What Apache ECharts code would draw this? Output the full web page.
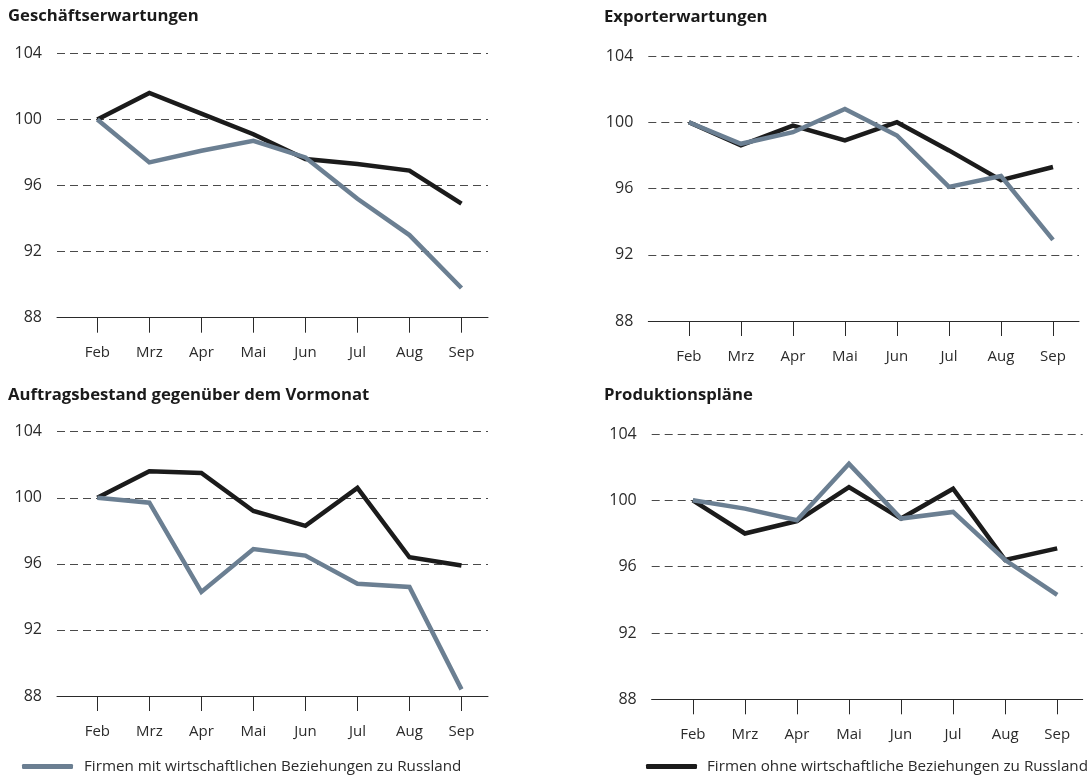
<!DOCTYPE html>
<html>
<head>
<meta charset="utf-8">
<script src="https://cdn.jsdelivr.net/npm/echarts@6/dist/echarts.min.js"></script>
<style>
  html, body { margin: 0; padding: 0; background: #fff; }
  #chart { width: 1090px; height: 782px; }
</style>
</head>
<body>
<div id="chart"></div>
<script>
// Month labels along each x axis
const months = ['Feb', 'Mrz', 'Apr', 'Mai', 'Jun', 'Jul', 'Aug', 'Sep'];
const yTicks = [88, 92, 96, 100, 104];

const nameWith = 'Firmen mit wirtschaftlichen Beziehungen zu Russland';
const nameWithout = 'Firmen ohne wirtschaftliche Beziehungen zu Russland';

const panelTitles = [
  'Geschäftserwartungen',
  'Exporterwartungen',
  'Auftragsbestand gegenüber dem Vormonat',
  'Produktionspläne'
];

// Index values (Feb = 100), firms with ties to Russia
const withGeschaeft = [100, 97.4, 98.1, 98.7, 97.7, 95.2, 93.0, 89.8];
const withExport    = [100, 98.7, 99.4, 100.8, 99.2, 96.1, 96.75, 92.9];
const withAuftrag   = [100, 99.7, 94.3, 96.9, 96.5, 94.8, 94.6, 88.4];
const withProdukt   = [100, 99.5, 98.8, 102.2, 98.9, 99.3, 96.4, 94.3];

// Index values (Feb = 100), firms without ties to Russia
const withoutGeschaeft = [100, 101.6, 100.35, 99.1, 97.6, 97.3, 96.9, 94.9];
const withoutExport    = [100, 98.6, 99.8, 98.9, 100, 98.3, 96.5, 97.3];
const withoutAuftrag   = [100, 101.6, 101.5, 99.2, 98.3, 100.6, 96.4, 95.9];
const withoutProdukt   = [100, 98.0, 98.75, 100.8, 98.9, 100.7, 96.4, 97.1];

const withSets = [withGeschaeft, withExport, withAuftrag, withProdukt];
const withoutSets = [withoutGeschaeft, withoutExport, withoutAuftrag, withoutProdukt];

const GRAY = '#6b7f92';
const BLACK = '#1b1b1b';
const TEXT = '#2b2b2b';
const FONT = '"Open Sans", "Noto Sans", sans-serif';

// Panel placement: grid box and title anchor
const panels = [
  { left: 57,    top: 53.3,  width: 431, height: 264.4, min: -0.775, max: 7.51, tx: 8,   ty: 8 },
  { left: 648.3, top: 56,    width: 430.7, height: 265, min: -0.78,  max: 7.5,  tx: 604, ty: 9 },
  { left: 57,    top: 431.7, width: 431, height: 264.3, min: -0.775, max: 7.51, tx: 8,   ty: 387 },
  { left: 651.7, top: 434,   width: 431, height: 265.3, min: -0.79,  max: 7.49, tx: 604, ty: 387 }
];

const monthIdx = months.map((m, i) => i);
const toPoints = arr => arr.map((v, i) => [i, v]);

const option = {
  backgroundColor: '#fff',
  animation: false,
  title: panels.map((p, i) => ({
    text: panelTitles[i],
    left: p.tx,
    top: p.ty,
    padding: 0,
    textStyle: { fontFamily: FONT, fontSize: 16.7, fontWeight: 'bold', color: '#1a1a1a' }
  })),
  legend: [
    {
      data: [nameWith],
      left: 22, top: 759,
      padding: 0,
      icon: 'roundRect',
      itemWidth: 51, itemHeight: 5,
      textStyle: { fontFamily: FONT, fontSize: 15.2, color: TEXT, padding: [0, 0, 0, 6] }
    },
    {
      data: [nameWithout],
      left: 646, top: 759,
      padding: 0,
      icon: 'roundRect',
      itemWidth: 51, itemHeight: 5,
      textStyle: { fontFamily: FONT, fontSize: 15.2, color: TEXT, padding: [0, 0, 0, 5] }
    }
  ],
  grid: panels.map(p => ({ left: p.left, top: p.top, width: p.width, height: p.height, containLabel: false })),
  xAxis: panels.map((p, i) => ({
    type: 'value',
    gridIndex: i,
    min: p.min,
    max: p.max,
    axisLine: { show: true, lineStyle: { color: '#2a2a2a', width: 1 } },
    axisTick: { show: true, customValues: monthIdx, length: 15, lineStyle: { color: '#2a2a2a', width: 1 } },
    axisLabel: {
      customValues: monthIdx,
      formatter: v => months[Math.round(v)],
      margin: 28,
      fontFamily: FONT, fontSize: 15, color: TEXT
    },
    splitLine: { show: false }
  })),
  yAxis: panels.map((p, i) => ({
    type: 'value',
    gridIndex: i,
    min: yTicks[0],
    max: yTicks[yTicks.length - 1],
    interval: yTicks[1] - yTicks[0],
    axisLine: { show: false },
    axisTick: { show: false },
    axisLabel: { margin: 15, fontFamily: FONT, fontSize: 16, color: TEXT },
    splitLine: { show: true, lineStyle: { color: '#4a4a4a', width: 1, type: [8, 5] } }
  })),
  series: []
};

panels.forEach((p, i) => {
  option.series.push({
    name: nameWithout,
    type: 'line',
    xAxisIndex: i, yAxisIndex: i,
    data: toPoints(withoutSets[i]),
    symbol: 'none',
    color: BLACK,
    lineStyle: { color: BLACK, width: 4.5, join: 'miter' },
    z: 3
  });
  option.series.push({
    name: nameWith,
    type: 'line',
    xAxisIndex: i, yAxisIndex: i,
    data: toPoints(withSets[i]),
    symbol: 'none',
    color: GRAY,
    lineStyle: { color: GRAY, width: 4.5, join: 'miter' },
    z: 4
  });
});

const chart = echarts.init(document.getElementById('chart'), null, { renderer: 'canvas' });
chart.setOption(option);
</script>
</body>
</html>
